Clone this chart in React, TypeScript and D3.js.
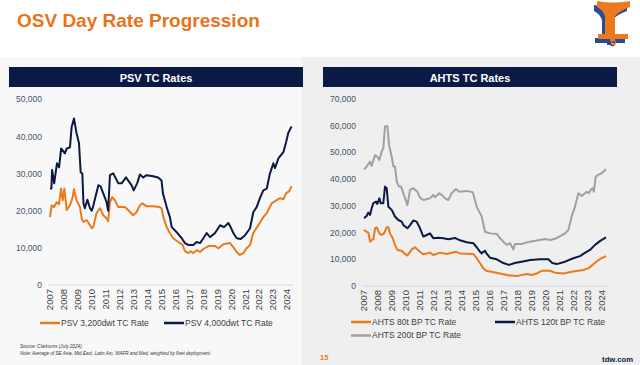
import React from "react";
import * as d3 from "d3";

// Values (year as decimal, day rate in USD)
const years = d3.range(2007, 2025);

const psv3200: [number, number][] = [
  [2007.0, 18300], [2007.12, 21500], [2007.29, 21000], [2007.48, 22300], [2007.65, 21800],
  [2007.79, 26000], [2007.91, 22800], [2008.03, 26000], [2008.2, 20200], [2008.43, 21500],
  [2008.63, 23700], [2008.72, 25800], [2008.91, 22800], [2009.15, 21000], [2009.27, 18000],
  [2009.39, 17000], [2009.63, 17500], [2009.87, 16100], [2009.99, 15300], [2010.1, 15600],
  [2010.34, 19400], [2010.59, 20700], [2010.82, 18800], [2011.06, 18000], [2011.17, 17200],
  [2011.3, 22300], [2011.46, 23700], [2011.66, 22800], [2011.9, 21000], [2012.14, 21000],
  [2012.38, 21000], [2012.6, 20200], [2012.96, 18800], [2013.2, 19600], [2013.45, 21500],
  [2013.63, 22000], [2013.93, 21200], [2014.4, 21200], [2014.83, 21000], [2015.0, 20700],
  [2015.13, 18300], [2015.37, 15600], [2015.6, 14000], [2015.84, 12600], [2016.2, 11600],
  [2016.51, 10800], [2016.68, 9100], [2016.92, 8600], [2017.09, 9100], [2017.28, 8600],
  [2017.52, 9400], [2017.76, 8900], [2018.0, 9700], [2018.36, 10500], [2018.84, 10500],
  [2019.08, 9900], [2019.44, 11000], [2019.91, 11300], [2020.15, 10200], [2020.39, 8900],
  [2020.62, 8100], [2020.86, 8600], [2021.1, 9900], [2021.35, 10800], [2021.58, 14000],
  [2021.94, 16100], [2022.3, 18300], [2022.55, 19400], [2022.9, 22000], [2023.14, 22600],
  [2023.5, 23400], [2023.74, 23100], [2023.93, 24700], [2024.16, 25300], [2024.33, 26600],
];

const psv4000: [number, number][] = [
  [2007.0, 26000], [2007.1, 26000], [2007.15, 31000], [2007.3, 27400], [2007.5, 32800],
  [2007.65, 31700], [2007.8, 36800], [2008.07, 35500], [2008.2, 36800], [2008.43, 37100],
  [2008.55, 42500], [2008.72, 44900], [2008.9, 41000], [2009.08, 38200], [2009.2, 30400],
  [2009.32, 30000], [2009.4, 22000], [2009.5, 20700], [2009.68, 23000], [2009.87, 20700],
  [2009.99, 20000], [2010.08, 21000], [2010.47, 26900], [2010.63, 26600], [2010.82, 24700],
  [2011.06, 22300], [2011.17, 20000], [2011.3, 29600], [2011.54, 30100], [2011.9, 27400],
  [2012.14, 27400], [2012.45, 29000], [2012.6, 28200], [2012.85, 26900], [2013.0, 25500],
  [2013.25, 27400], [2013.45, 29800], [2013.69, 29000], [2013.93, 29600], [2014.4, 29300],
  [2014.76, 29000], [2015.0, 28200], [2015.1, 24700], [2015.37, 21000], [2015.6, 18300],
  [2015.73, 15600], [2016.09, 14200], [2016.45, 12600], [2016.68, 11300], [2016.92, 10800],
  [2017.28, 10800], [2017.52, 11600], [2017.76, 11300], [2018.0, 12600], [2018.24, 14000],
  [2018.48, 12900], [2018.84, 14000], [2019.2, 16100], [2019.48, 15600], [2019.79, 16700],
  [2019.96, 15600], [2020.15, 14000], [2020.39, 12600], [2020.68, 12400], [2020.99, 13400],
  [2021.35, 15300], [2021.58, 19600], [2021.82, 21000], [2022.06, 23400], [2022.3, 25500],
  [2022.55, 26000], [2022.78, 30100], [2023.02, 32800], [2023.14, 31500], [2023.38, 34100],
  [2023.74, 35800], [2023.93, 38400], [2024.1, 41100], [2024.33, 42700],
];

const ahts80: [number, number][] = [
  [2007.0, 21000], [2007.19, 20300], [2007.31, 20000], [2007.43, 16600], [2007.55, 17200],
  [2007.67, 17500], [2007.79, 21600], [2007.91, 22000], [2008.1, 19700], [2008.26, 19100],
  [2008.43, 19700], [2008.62, 22000], [2008.74, 22000], [2008.86, 19700], [2009.05, 17900],
  [2009.21, 15400], [2009.38, 13500], [2009.69, 13200], [2009.93, 12000], [2010.1, 11400],
  [2010.41, 13700], [2010.64, 14500], [2011.0, 12800], [2011.24, 11900], [2011.71, 12500],
  [2011.95, 11600], [2012.43, 12500], [2012.9, 12000], [2013.57, 12800], [2013.86, 12200],
  [2014.81, 12000], [2015.05, 10400], [2015.29, 8500], [2015.52, 6600], [2015.76, 5600],
  [2016.0, 5400], [2016.71, 4700], [2017.19, 4100], [2017.9, 3700], [2018.62, 4500],
  [2018.98, 4100], [2019.34, 4700], [2019.69, 5700], [2020.29, 5700], [2020.64, 5000],
  [2021.24, 4700], [2021.95, 5400], [2022.66, 6000], [2023.02, 6600], [2023.38, 8100],
  [2023.74, 9700], [2023.98, 10400], [2024.29, 11200],
];

const ahts120: [number, number][] = [
  [2007.0, 25400], [2007.19, 26200], [2007.31, 27500], [2007.43, 26600], [2007.55, 29100],
  [2007.67, 31000], [2007.86, 31600], [2007.95, 30700], [2008.1, 32800], [2008.19, 31000],
  [2008.38, 31000], [2008.5, 37200], [2008.62, 36600], [2008.74, 29700], [2008.98, 28500],
  [2009.21, 26000], [2009.45, 24700], [2009.69, 24100], [2009.81, 22800], [2010.1, 21600],
  [2010.29, 22800], [2010.52, 24500], [2010.76, 24100], [2011.0, 21600], [2011.24, 18500],
  [2011.48, 19100], [2011.71, 19700], [2011.95, 17900], [2012.31, 18100], [2012.67, 17900],
  [2013.02, 17500], [2013.5, 18000], [2013.86, 17100], [2014.33, 16400], [2014.81, 16000],
  [2015.05, 14500], [2015.29, 12800], [2015.41, 12200], [2015.52, 12800], [2015.64, 13200],
  [2015.75, 12200], [2016.0, 10600], [2016.48, 10000], [2016.95, 8600], [2017.35, 7900],
  [2017.85, 8700], [2018.26, 9100], [2018.86, 9700], [2019.57, 10000], [2020.17, 10000],
  [2020.45, 8600], [2020.76, 8200], [2021.36, 9100], [2021.95, 10400], [2022.43, 11200],
  [2022.72, 12200], [2023.14, 13500], [2023.5, 15400], [2023.9, 17000], [2024.29, 18200],
];

const ahts200: [number, number][] = [
  [2007.0, 43700], [2007.19, 44700], [2007.43, 46600], [2007.55, 45000], [2007.79, 49000],
  [2007.95, 48400], [2008.1, 47200], [2008.26, 50300], [2008.38, 51600], [2008.5, 59700],
  [2008.67, 59900], [2008.79, 52800], [2008.98, 48400], [2009.1, 44700], [2009.21, 44700],
  [2009.34, 39000], [2009.5, 37200], [2009.65, 37200], [2009.81, 34700], [2010.1, 30300],
  [2010.29, 36000], [2010.52, 36600], [2010.81, 35300], [2011.0, 33100], [2011.24, 32200],
  [2011.71, 32800], [2011.95, 34100], [2012.07, 33200], [2012.38, 34700], [2012.55, 34100],
  [2012.79, 32800], [2013.02, 32200], [2013.26, 34700], [2013.57, 36300], [2013.81, 35300],
  [2014.33, 35600], [2014.76, 35100], [2014.86, 33400], [2015.05, 29700], [2015.16, 28500],
  [2015.41, 26000], [2015.64, 20300], [2016.0, 19700], [2016.48, 19500], [2016.71, 17900],
  [2016.95, 16600], [2017.19, 15400], [2017.43, 16000], [2017.67, 13700], [2017.79, 15700],
  [2018.26, 15700], [2018.86, 16600], [2019.34, 17000], [2019.93, 17600], [2020.29, 17200],
  [2020.76, 17900], [2021.36, 19700], [2021.6, 21000], [2021.83, 26000], [2022.07, 29700],
  [2022.31, 34700], [2022.55, 33700], [2022.91, 35300], [2023.05, 34700], [2023.2, 36000],
  [2023.32, 36600], [2023.42, 35300], [2023.55, 40900], [2023.74, 41700], [2023.98, 42200],
  [2024.29, 43700],
];

const psvTicks = [0, 10000, 20000, 30000, 40000, 50000];
const ahtsTicks = [0, 10000, 20000, 30000, 40000, 50000, 60000, 70000];

const NAVY = "#0b1a45";
const ORANGE = "#ec7a1c";
const GRAY = "#a0a0a0";
const FONT = "'Liberation Sans', Arial, sans-serif";
const fmt = d3.format(",");

interface PanelProps {
  title: string;
  left: number;
  xRange: [number, number];
  yRange: [number, number];
  yMax: number;
  ticks: number[];
  series: { data: [number, number][]; color: string }[];
}

const Panel: React.FC<PanelProps> = ({ title, left, xRange, yRange, yMax, ticks, series }) => {
  const x = d3.scaleLinear().domain([2007, 2024]).range(xRange);
  const y = d3.scaleLinear().domain([0, yMax]).range(yRange);
  const line = d3.line<[number, number]>().x(d => x(d[0])).y(d => y(d[1]));
  const axisEnd = x(2024.45);

  return (
    <g>
      <rect x={left} y={67} width={294} height={20} fill={NAVY} />
      <text x={left + 147} y={82} textAnchor="middle" fill="#fff" fontSize={11} fontWeight="bold" fontFamily={FONT}>
        {title}
      </text>
      {ticks.map(t => (
        <text key={t} x={xRange[0] - 8} y={y(t)} dy="0.35em" textAnchor="end" fill="#44546a" fontSize={8.5} fontFamily={FONT}>
          {fmt(t)}
        </text>
      ))}
      <line x1={xRange[0] - 2} x2={axisEnd} y1={y(0)} y2={y(0)} stroke="#cfd8ea" strokeWidth={1} />
      {years.map(yr => (
        <text
          key={yr}
          transform={`translate(${x(yr)},${y(0) + 4}) rotate(-90)`}
          dy="0.35em"
          textAnchor="end"
          fill="#404040"
          fontSize={9.5}
          fontFamily={FONT}
        >
          {yr}
        </text>
      ))}
      {series.map((s, i) => (
        <path key={i} d={line(s.data) || ""} fill="none" stroke={s.color} strokeWidth={2} strokeLinejoin="round" />
      ))}
    </g>
  );
};

const Legend: React.FC<{ x: number; y: number; color: string; label: string }> = ({ x, y, color, label }) => (
  <g>
    <line x1={x} x2={x + 20} y1={y} y2={y} stroke={color} strokeWidth={2.5} />
    <text x={x + 21} y={y} dy="0.35em" fill="#404040" fontSize={8.5} fontFamily={FONT}>
      {label}
    </text>
  </g>
);

// company mark, drawn twice: blue shadow then orange face
const logoPath =
  "M0,0 Q16,3 33,0 L33,6 Q24,9 18,15 L18,33 L31,33 L31,38 L18,38 L18,40 L13,40 L13,38 L1,38 L1,33 L8,33 L8,15 Q6,9 0,6 Z";

export default function App() {
  return (
    <div style={{ position: "fixed", left: 0, top: 0 }}>
      <svg width={640} height={365} style={{ display: "block" }}>
        <rect width={640} height={365} fill="#fff" />
        <rect x={0} y={57} width={302} height={308} fill="#f8f8f8" />
        <rect x={302} y={57} width={338} height={308} fill="#efefef" />
        <text x={17} y={27} fill="#e8731a" fontSize={19} fontWeight="bold" fontFamily={FONT}>
          OSV Day Rate Progression
        </text>

        <g>
          <path d={logoPath} transform="translate(594,5)" fill="#2a4a93" />
          <path d={logoPath} transform="translate(597,1)" fill={ORANGE} />
          <circle cx={612.5} cy={43.5} r={2} fill="none" stroke="#2a4a93" strokeWidth={1.5} />
          <circle cx={613.5} cy={42.5} r={2} fill="none" stroke={ORANGE} strokeWidth={1.2} />
        </g>

        <Panel
          title="PSV TC Rates"
          left={9}
          xRange={[50, 287]}
          yRange={[285, 99.5]}
          yMax={50000}
          ticks={psvTicks}
          series={[
            { data: psv3200, color: ORANGE },
            { data: psv4000, color: NAVY },
          ]}
        />
        <Panel
          title="AHTS TC Rates"
          left={323}
          xRange={[364, 602]}
          yRange={[286, 99]}
          yMax={70000}
          ticks={ahtsTicks}
          series={[
            { data: ahts200, color: GRAY },
            { data: ahts80, color: ORANGE },
            { data: ahts120, color: NAVY },
          ]}
        />

        <Legend x={40} y={323} color={ORANGE} label="PSV 3,200dwt TC Rate" />
        <Legend x={164} y={323} color={NAVY} label="PSV 4,000dwt TC Rate" />
        <Legend x={351} y={322} color={ORANGE} label="AHTS 80t BP TC Rate" />
        <Legend x={495} y={322} color={NAVY} label="AHTS 120t BP TC Rate" />
        <Legend x={351} y={335.5} color={GRAY} label="AHTS 200t BP TC Rate" />

        <text x={20} y={348} fill="#333" fontSize={4.6} fontStyle="italic" fontFamily={FONT}>
          Source: Clarksons (July 2024).
        </text>
        <text x={20} y={354.5} fill="#333" fontSize={4.6} fontStyle="italic" fontFamily={FONT}>
          Note: Average of SE Asia, Mid East, Latin Am, WAFR and Med, weighted by fleet deployment.
        </text>
        <text x={320} y={360} fill={ORANGE} fontSize={7.5} fontWeight="bold" fontFamily={FONT}>
          15
        </text>
        <text x={633} y={361.5} textAnchor="end" fill={NAVY} fontSize={7.7} fontWeight="bold" fontFamily={FONT}>
          tdw.com
        </text>
      </svg>
    </div>
  );
}
